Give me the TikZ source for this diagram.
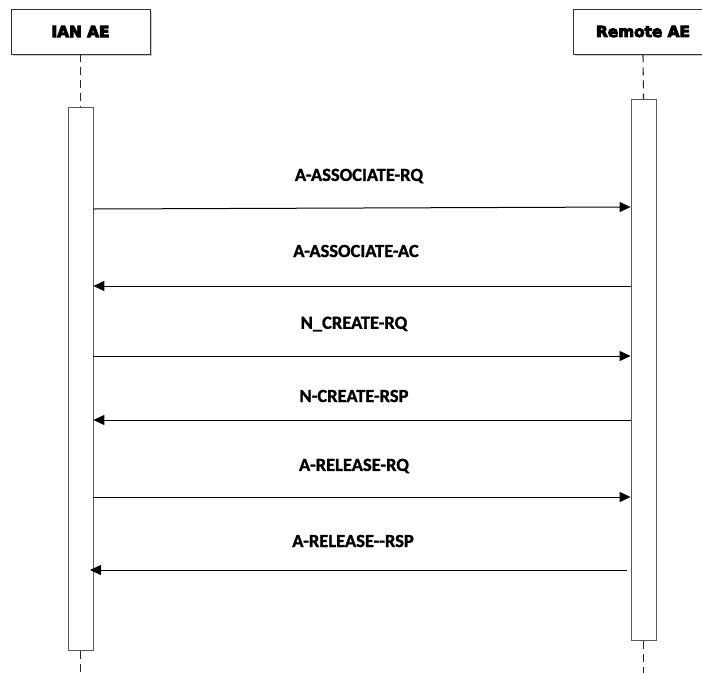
\documentclass[tikz,border=0pt]{standalone}
\usepackage{fontspec}
\setmainfont{Carlito}
\newfontfamily\headfont{DejaVu Sans}
\newcommand\heavytext[1]{\color{black}\special{pdf:literal direct 2 Tr 0.9 w}#1\special{pdf:literal direct 0 Tr}}
\newcommand\semiheavy[1]{\color{black}\special{pdf:literal direct 2 Tr 0.25 w}#1\special{pdf:literal direct 0 Tr}}
\usetikzlibrary{arrows.meta,shadows}
\begin{document}
\begin{tikzpicture}[x=1pt,y=-1pt,
  actor/.style={draw=black!80,line width=0.9pt,fill=white,minimum width=139pt,minimum height=45pt,inner sep=0pt,
    drop shadow={shadow xshift=1.5pt,shadow yshift=-2pt,fill=blue!25!gray,opacity=0.35},
    font=\headfont\bfseries\fontsize{15.3}{17}\selectfont},
  actbar/.style={draw=black!65,line width=0.8pt,fill=white,minimum width=25pt,inner sep=0pt},
  life/.style={line width=1.1pt,dash pattern=on 8pt off 5pt,black!85},
  msg/.style={line width=1pt,-{Triangle[length=11pt,width=10pt]}},
  lbl/.style={font=\bfseries\fontsize{18.5}{20}\selectfont}]
\useasboundingbox (0,0) rectangle (702,673);
\node[actor] (ian) at (80.5,31.5) {\heavytext{IAN AE}};
\node[actor] (rem) at (643,31.5) {\heavytext{Remote AE}};
\node[actbar,minimum height=543pt,anchor=north] (barL) at (80.5,107) {};
\node[actbar,minimum height=541pt,anchor=north] (barR) at (643.5,99) {};
\coordinate (endL) at (80.5,673);
\coordinate (endR) at (643.5,673);
\draw[life] (ian.south) -- (barL.north);
\draw[life] (barL.south) -- (endL);
\draw[life] (rem.south) -- (barR.north);
\draw[life] (barR.south) -- (endR);
% message rows
\coordinate (m1a) at (0,209);
\coordinate (m1b) at (0,207);
\coordinate (m2) at (0,286);
\coordinate (m3) at (0,356);
\coordinate (m4) at (0,420);
\coordinate (m5) at (0,497);
\coordinate (m6) at (0,570);
\coordinate (m6r) at (627,570);
\coordinate (m6l) at (90,570);
\draw[msg] (barL.east |- m1a) -- (barR.west |- m1b);
\draw[msg] (barR.west |- m2) -- (barL.east |- m2);
\draw[msg] (barL.east |- m3) -- (barR.west |- m3);
\draw[msg] (barR.west |- m4) -- (barL.east |- m4);
\draw[msg] (barL.east |- m5) -- (barR.west |- m5);
\draw[msg] (m6r) -- (m6l);
\node[lbl] (l1) at (359,176) {\semiheavy{A-ASSOCIATE-RQ}};
\node[lbl] (l2) at (356,251) {\semiheavy{A-ASSOCIATE-AC}};
\node[lbl] (l3) at (354,324) {\semiheavy{N\_CREATE-RQ}};
\node[lbl] (l4) at (354,396) {\semiheavy{N-CREATE-RSP}};
\node[lbl] (l5) at (354,466) {\semiheavy{A-RELEASE-RQ}};
\node[lbl] (l6) at (353,541) {\semiheavy{A-RELEASE-{}-RSP}};
\end{tikzpicture}
\end{document}
